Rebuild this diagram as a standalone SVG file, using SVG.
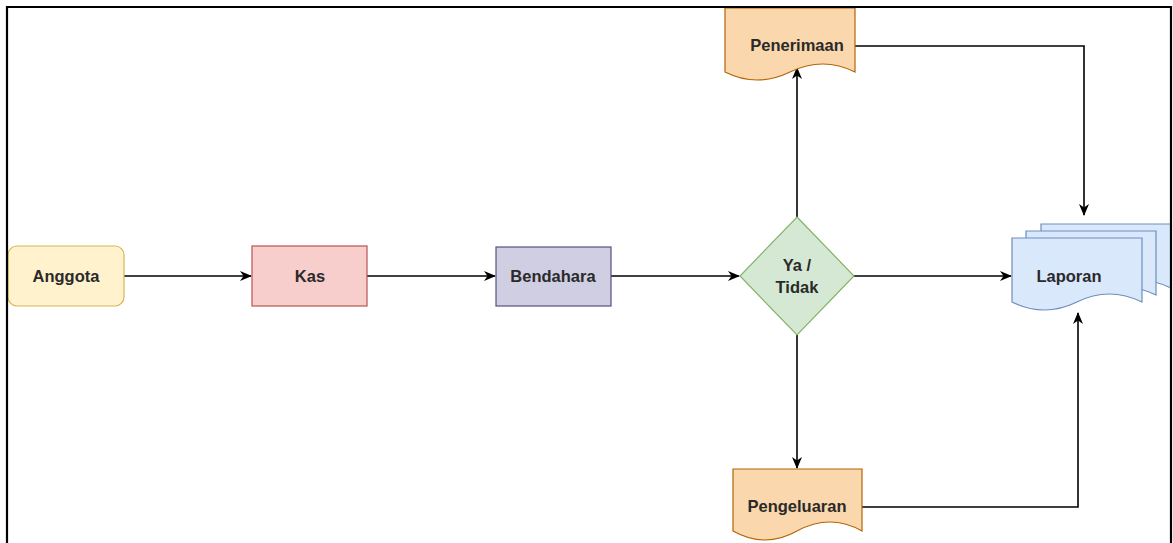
<svg xmlns="http://www.w3.org/2000/svg" width="1173" height="543" viewBox="0 0 1173 543">
<style>
text{font-family:"Liberation Sans",Arial,sans-serif;font-size:16.5px;font-weight:bold;fill:#2a2a2a;text-anchor:middle;dominant-baseline:central}
.c{fill:none;stroke:#000;stroke-width:1.6}
.doc{fill:#fad7ac;stroke:#b46504;stroke-width:1.2}
.lap{fill:#dae8fc;stroke:#6c8ebf;stroke-width:1.2}
</style>
<defs>
<marker id="a" viewBox="0 0 12 12" refX="11" refY="6" markerWidth="12" markerHeight="12" markerUnits="userSpaceOnUse" orient="auto">
<path d="M0,1 L12,6 L0,11 L3.5,6 Z" fill="#000"/>
</marker>
</defs>
<rect width="1173" height="543" fill="#fff"/>
<g id="connectors">
<path class="c" d="M124,276 H251" marker-end="url(#a)"/>
<path class="c" d="M367,276 H495" marker-end="url(#a)"/>
<path class="c" d="M611,276 H739" marker-end="url(#a)"/>
<path class="c" d="M854,276 H1011" marker-end="url(#a)"/>
<path class="c" d="M797,217 V68" marker-end="url(#a)"/>
<path class="c" d="M797,335 V468" marker-end="url(#a)"/>
<path class="c" d="M855,46 H1084 V215" marker-end="url(#a)"/>
<path class="c" d="M862,507 H1078 V313" marker-end="url(#a)"/>
</g>
<g id="anggota">
<rect x="8" y="246" width="116" height="60" rx="9" fill="#fff2cc" stroke="#d6b656" stroke-width="1.2"/>
<text x="66" y="276">Anggota</text>
</g>
<g id="kas">
<rect x="252" y="246" width="115" height="60" fill="#f8cecc" stroke="#b85450" stroke-width="1.2"/>
<text x="310" y="276">Kas</text>
</g>
<g id="bendahara">
<rect x="496" y="247" width="115" height="59" fill="#d0cee2" stroke="#56517e" stroke-width="1.2"/>
<text x="553" y="276">Bendahara</text>
</g>
<g id="decision">
<path d="M797,217 L854,276 L797,335 L740,276 Z" fill="#d5e8d4" stroke="#82b366" stroke-width="1.2"/>
<text x="797" y="265">Ya /</text>
<text x="797" y="287">Tidak</text>
</g>
<g id="penerimaan">
<path class="doc" d="M725,8 H855 V72 Q823,56 790,72 Q757,88 725,72 Z"/>
<text x="797" y="45">Penerimaan</text>
</g>
<g id="pengeluaran">
<path class="doc" d="M733,469 H862 V531 Q830,513 797,531 Q765,549 733,531 Z"/>
<text x="797" y="506">Pengeluaran</text>
</g>
<g id="laporan">
<path class="lap" d="M1041,224 H1171 V288 Q1138,272 1106,288 Q1073,304 1041,288 Z"/>
<path class="lap" d="M1026,231 H1156 V295 Q1123,279 1091,295 Q1058,311 1026,295 Z"/>
<path class="lap" d="M1012,238 H1142 V302 Q1109,286 1077,302 Q1044,318 1012,302 Z"/>
<text x="1069" y="276">Laporan</text>
</g>
<path d="M7,543 V7 H1171 V543" fill="none" stroke="#000" stroke-width="2.2"/>
</svg>
